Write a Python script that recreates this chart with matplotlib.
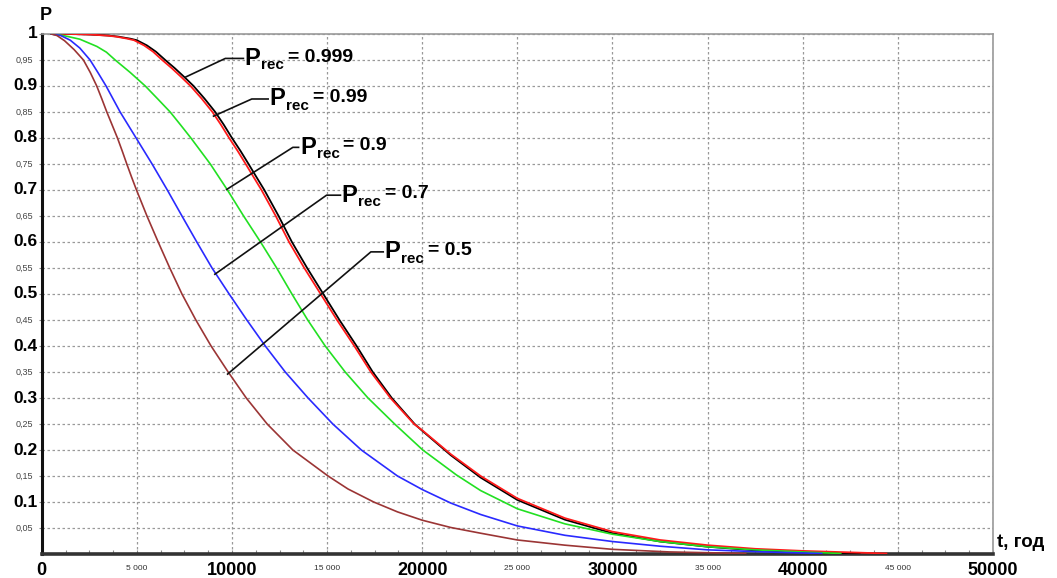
import matplotlib
matplotlib.use('Agg')
import matplotlib.pyplot as plt
import numpy as np

plt.rcParams['font.family'] = ['Liberation Sans', 'DejaVu Sans']

# curves: (t, P)
t_999 = [500, 1500, 2500, 3500, 4000, 4650, 5000, 5530, 6000, 6490, 7000, 7500, 7980, 8550, 9120, 9560,
         10000, 10450, 10870, 11300, 11700, 12450, 13150, 13950, 14800, 15650, 16550, 17400, 18400,
         19600, 20000, 21500, 23070, 25000, 27500, 30000, 32500, 35000, 37500, 40000, 43000]
p_999 = [1.0, 1.0, 0.999, 0.997, 0.995, 0.991, 0.988, 0.978, 0.966, 0.95, 0.934, 0.917, 0.9, 0.876, 0.85, 0.826,
         0.8, 0.775, 0.75, 0.724, 0.7, 0.65, 0.6, 0.55, 0.5, 0.45, 0.4, 0.35, 0.3,
         0.25, 0.237, 0.19, 0.147, 0.104, 0.066, 0.04, 0.024, 0.014, 0.007, 0.004, 0.001]

t_99 = [500, 1500, 2500, 3400, 3900, 4500, 4850, 5380, 5850, 6330, 6840, 7340, 7820, 8400, 8970, 9410,
        9850, 10300, 10720, 11150, 11550, 12300, 13000, 13800, 14660, 15520, 16430, 17300, 18330,
        19570, 20000, 21500, 23070, 25000, 27500, 30000, 32500, 35000, 37500, 40000, 44400]
p_99 = [1.0, 1.0, 0.999, 0.997, 0.995, 0.991, 0.988, 0.978, 0.966, 0.95, 0.934, 0.917, 0.9, 0.876, 0.85, 0.826,
        0.8, 0.775, 0.75, 0.724, 0.7, 0.65, 0.6, 0.55, 0.5, 0.45, 0.4, 0.35, 0.3,
        0.25, 0.238, 0.192, 0.15, 0.107, 0.069, 0.043, 0.027, 0.017, 0.010, 0.006, 0.001]

t_9 = [500, 1140, 2000, 2900, 3400, 3860, 4650, 5440, 6100, 6750, 7300, 7840, 8350, 8860, 9310, 9760,
       10610, 11500, 12350, 13150, 13980, 14900, 15950, 17150, 18550, 20030, 21800, 23070, 25000,
       27500, 30000, 32500, 35000, 37500, 40000, 42000]
p_9 = [1.0, 0.997, 0.99, 0.976, 0.965, 0.95, 0.926, 0.9, 0.875, 0.85, 0.825, 0.8, 0.775, 0.75, 0.725, 0.7,
       0.65, 0.6, 0.55, 0.5, 0.45, 0.4, 0.35, 0.3, 0.25, 0.2, 0.152, 0.122, 0.087,
       0.058, 0.038, 0.024, 0.014, 0.008, 0.004, 0.001]

t_7 = [500, 1000, 1500, 2000, 2540, 2950, 3380, 3750, 4120, 4540, 4960, 5380, 5800, 6200, 6600,
       7370, 8150, 8950, 9850, 10780, 11750, 12800, 14000, 15300, 16800, 18700, 20000, 21500, 23070,
       25000, 27500, 30000, 32500, 35000, 38000, 41000]
p_7 = [1.0, 0.997, 0.988, 0.973, 0.95, 0.926, 0.9, 0.875, 0.85, 0.825, 0.8, 0.775, 0.75, 0.725, 0.7,
       0.65, 0.6, 0.55, 0.5, 0.45, 0.4, 0.35, 0.3, 0.25, 0.2, 0.15, 0.124, 0.098, 0.076,
       0.054, 0.036, 0.024, 0.015, 0.008, 0.004, 0.001]

t_5 = [500, 800, 1200, 1700, 2190, 2550, 2890, 3160, 3420, 3700, 3980, 4230, 4470, 4720, 4980,
       5530, 6120, 6730, 7370, 8100, 8900, 9800, 10750, 11850, 13200, 15050, 16100, 17450, 18700,
       20000, 21500, 23070, 25000, 27500, 30000, 33000, 37000]
p_5 = [1.0, 0.997, 0.987, 0.97, 0.95, 0.926, 0.9, 0.875, 0.85, 0.825, 0.8, 0.775, 0.75, 0.725, 0.7,
       0.65, 0.6, 0.55, 0.5, 0.45, 0.4, 0.35, 0.3, 0.25, 0.2, 0.15, 0.125, 0.1, 0.081,
       0.065, 0.051, 0.04, 0.027, 0.017, 0.009, 0.004, 0.001]

fig = plt.figure(figsize=(10.57, 5.78), dpi=100)
ax = fig.add_axes([0.0395, 0.0415, 0.8999, 0.8997])

ax.plot(t_999, p_999, color='black', lw=1.3, zorder=3)
ax.plot(t_99, p_99, color='#ff1a1a', lw=1.3, zorder=3)
ax.plot(t_9, p_9, color='#22e022', lw=1.2, zorder=3)
ax.plot(t_7, p_7, color='#2a2aff', lw=1.2, zorder=3)
ax.plot(t_5, p_5, color='#9b3535', lw=1.2, zorder=3)

ax.set_xlim(0, 50000)
ax.set_ylim(0, 1)

# ticks
ax.set_xticks(np.arange(0, 50001, 5000))
ax.set_xticks(np.arange(0, 50001, 1250), minor=True)
ax.set_xticklabels([])
ax.set_yticks(np.arange(0.05, 1.001, 0.05))
ax.set_yticklabels([])
ax.tick_params(axis='x', which='both', direction='in', length=3, color='#888888', width=0.8)
ax.tick_params(axis='y', which='both', direction='out', length=2, color='#888888', width=0.8)

ax.grid(True, which='major', color='#999999', linestyle=(0, (2, 2)), lw=0.9)
ax.set_axisbelow(True)

for s in ['top', 'right']:
    ax.spines[s].set_linestyle((0, (2, 1)))
    ax.spines[s].set_color('#999999')
    ax.spines[s].set_linewidth(1.2)
ax.spines['left'].set_color('#111111')
ax.spines['left'].set_linewidth(2.2)
ax.spines['bottom'].set_color('#333333')
ax.spines['bottom'].set_linewidth(2.6)

# x tick labels
for v in range(0, 50001, 5000):
    if v % 10000 == 0:
        ax.annotate(str(v), xy=(v, 0), xycoords='data', xytext=(0, -6), textcoords='offset points',
                    ha='center', va='top', fontsize=13, fontweight='bold')
    else:
        ax.annotate('{} 000'.format(v // 1000), xy=(v, 0), xycoords='data', xytext=(0, -8),
                    textcoords='offset points', ha='center', va='top', fontsize=6, color='#333333')

# y tick labels
for i in range(1, 21):
    v = i * 0.05
    if i % 2 == 0:
        txt = '1' if i == 20 else '0.{}'.format(i // 2)
        ax.annotate(txt, xy=(0, v), xycoords='data', xytext=(-3, 0), textcoords='offset points',
                    ha='right', va='center', fontsize=12.5, fontweight='bold')
    else:
        ax.annotate('0,{:02d}'.format(i * 5), xy=(0, v), xycoords='data', xytext=(-6, 0),
                    textcoords='offset points', ha='right', va='center', fontsize=6.5, color='#444444')

ax.annotate('P', xy=(0, 1), xycoords='data', xytext=(3, 7), textcoords='offset points',
            ha='center', va='bottom', fontsize=13, fontweight='bold')
ax.annotate('t, год', xy=(50000, 0), xycoords='data', xytext=(3, 2), textcoords='offset points',
            ha='left', va='bottom', fontsize=13.5, fontweight='bold')

# labels with pointer lines
labels = ['0.999', '0.99', '0.9', '0.7', '0.5']
pt_start = [(7550, 0.917), (9030, 0.842), (9720, 0.701), (9100, 0.538), (9770, 0.346)]
pt_knee = [(9650, 0.953), (11040, 0.875), (13200, 0.782), (14970, 0.690), (17300, 0.581)]
pt_end = [(10600, 0.953), (11900, 0.875), (13500, 0.782), (15700, 0.690), (17950, 0.581)]

for lab, a, b, c in zip(labels, pt_start, pt_knee, pt_end):
    ax.plot([a[0], b[0], c[0]], [a[1], b[1], c[1]], color='#111111', lw=1.2, zorder=4)
    ax.annotate('P', xy=c, xycoords='data', xytext=(1, 0), textcoords='offset points',
                ha='left', va='center', fontsize=17, fontweight='bold')
    ax.annotate('rec', xy=c, xycoords='data', xytext=(13, -5), textcoords='offset points',
                ha='left', va='center', fontsize=11, fontweight='bold')
    ax.annotate('= ' + lab, xy=c, xycoords='data', xytext=(32, 1), textcoords='offset points',
                ha='left', va='center', fontsize=14, fontweight='bold')

fig.savefig('out.png', dpi=100)
